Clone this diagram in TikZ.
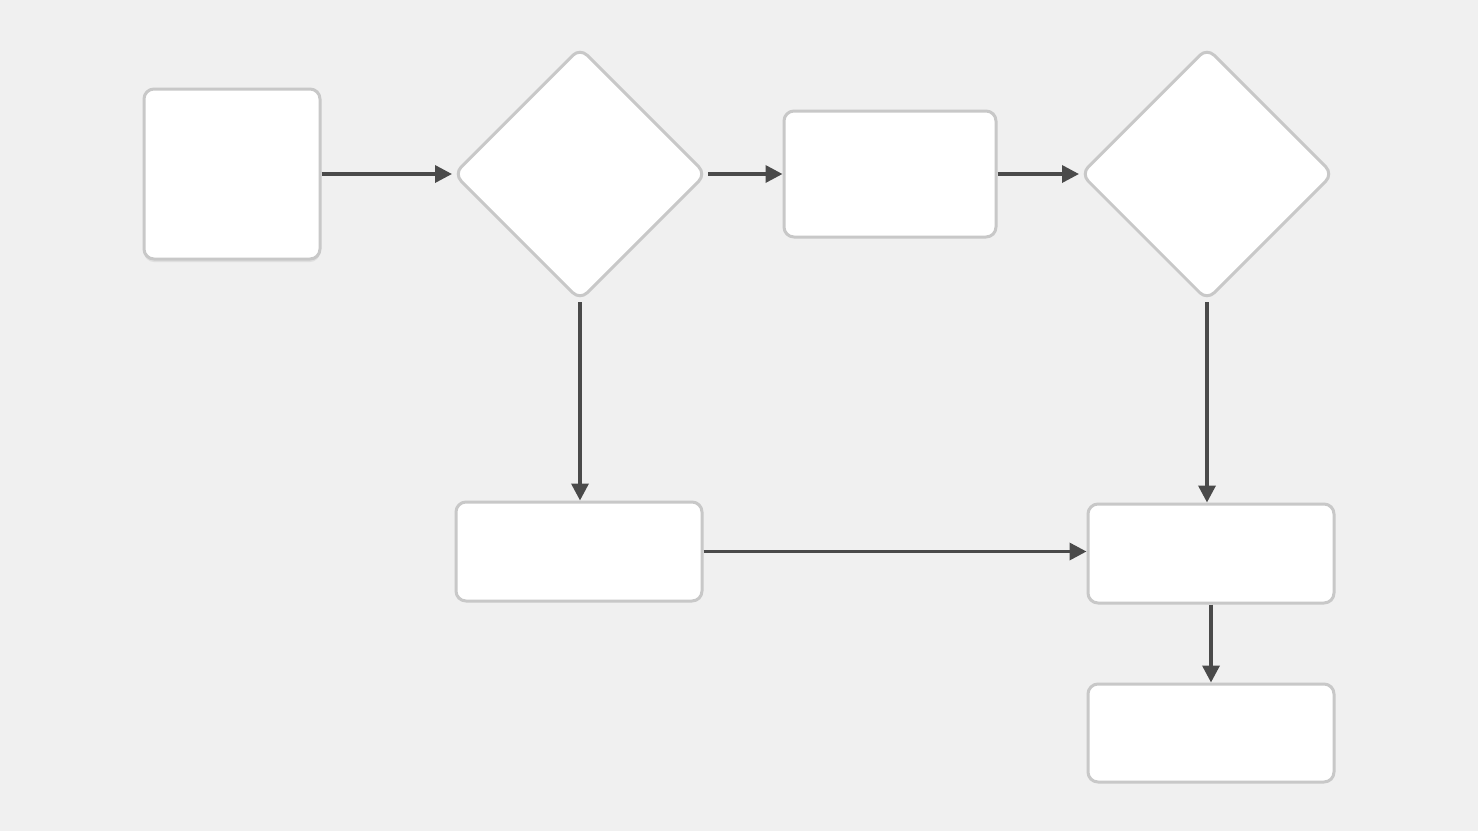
\documentclass[tikz,border=0pt]{standalone}
\usetikzlibrary{shapes.geometric,arrows.meta,shadows}
\definecolor{bg}{HTML}{F0F0F0}
\definecolor{bd}{HTML}{C8C8C8}
\definecolor{ar}{HTML}{4A4A4A}
\begin{document}
\begin{tikzpicture}[x=1pt,y=-1pt,
  box/.style={draw=bd,line width=3pt,fill=white,rounded corners=10pt,inner sep=0pt},
  dia/.style={draw=bd,line width=3pt,fill=white,diamond,rounded corners=10pt,inner sep=0pt,minimum width=253pt,minimum height=253pt},
  conn/.style={draw=ar,line width=3.5pt,-{Triangle[length=17pt,width=17pt]}}]
\fill[bg] (0,0) rectangle (1478,831);
\node[box,minimum width=176pt,minimum height=170pt,drop shadow={opacity=0.15,shadow xshift=0pt,shadow yshift=-3pt}] (a) at (232,174) {};
\node[dia] (b) at (580,174) {};
\node[box,minimum width=212pt,minimum height=126pt] (c) at (890,174) {};
\node[dia] (d) at (1207,174) {};
\node[box,minimum width=246pt,minimum height=99pt] (e) at (579,551.5) {};
\node[box,minimum width=246pt,minimum height=99pt] (f) at (1211,553.5) {};
\node[box,minimum width=246pt,minimum height=98pt] (g) at (1211,733) {};
\draw[conn] (a.east) -- (b.west);
\draw[conn] (b.east) -- (c.west);
\draw[conn] (c.east) -- (d.west);
\draw[conn] (b.south) -- (e.north -| b.south);
\draw[conn] (d.south) -- (f.north -| d.south);
\draw[conn] (e.east) -- (f.west |- e.east);
\draw[conn] (f.south) -- (g.north);
\end{tikzpicture}
\end{document}
